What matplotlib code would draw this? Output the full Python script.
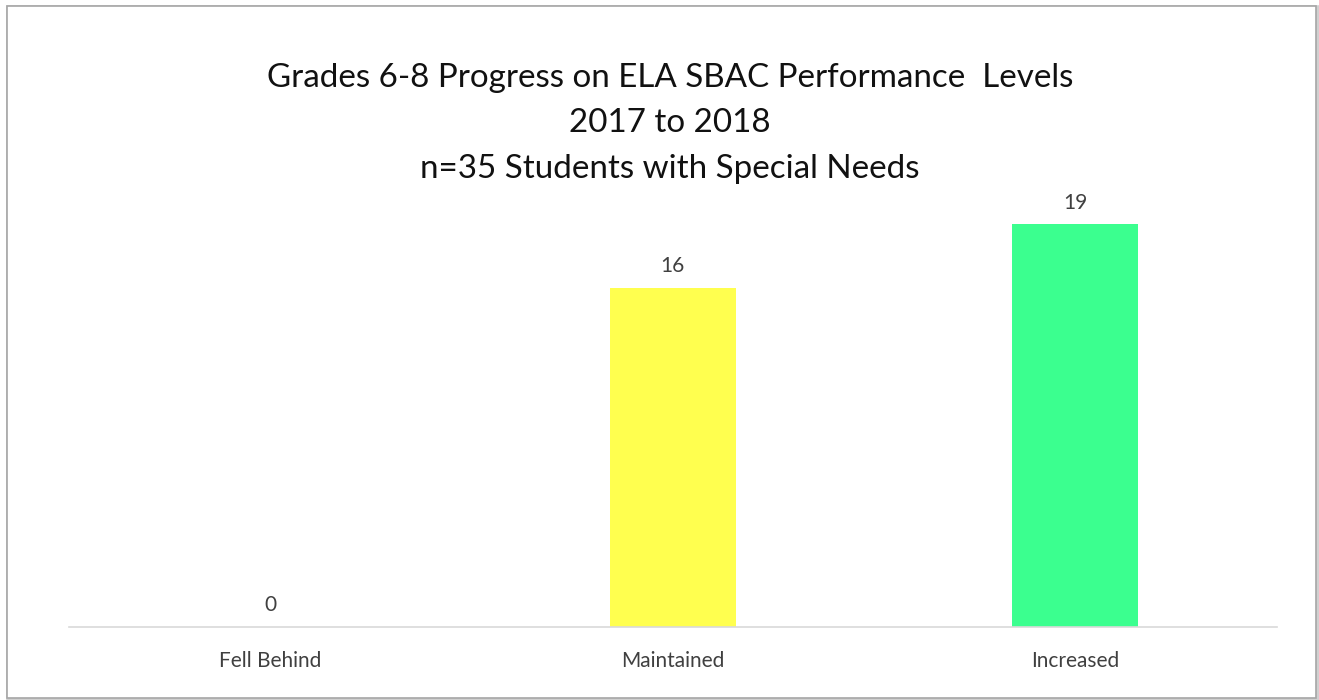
import matplotlib
matplotlib.use("Agg")
import matplotlib.pyplot as plt
from matplotlib.patches import Rectangle

categories = ["Fell Behind", "Maintained", "Increased"]
values = [0, 16, 19]
colors = ["#FF6B6B", "#FFFF4F", "#3BFF8F"]
title_lines = ["Grades 6-8 Progress on ELA SBAC Performance  Levels",
               "2017 to 2018",
               "n=35 Students with Special Needs"]

plt.rcParams['font.family'] = ['Lato', 'DejaVu Sans']
fig = plt.figure(figsize=(13.19, 7.0), dpi=100)
fig.patch.set_facecolor("white")

# outer frame with shadow
fig.add_artist(Rectangle((9/1319, 0.0), 1309/1319, 692/700, transform=fig.transFigure,
                         facecolor="none", edgecolor="#d0d0d0", linewidth=4, zorder=-2))
fig.add_artist(Rectangle((7/1319, 2/700), 1309/1319, 692/700, transform=fig.transFigure,
                         facecolor="white", edgecolor="#a6a6a6", linewidth=1.2, zorder=-1))

ax = fig.add_axes([68.7/1319, 73/700, 1208/1319, 424/700])
ax.set_facecolor("none")
x = range(len(categories))
bars = ax.bar(x, values, width=0.313, color=colors, zorder=2)
ax.set_xlim(-0.5, 2.5)
ax.set_ylim(0, 20)
for xi, v in zip(x, values):
    ax.text(xi, v + 0.55, str(v), ha="center", va="bottom", fontsize=15, color="#404040")
ax.set_xticks(list(x))
ax.set_xticklabels(categories, fontsize=15, color="#404040")
ax.tick_params(axis="x", length=0, pad=17)
ax.set_yticks([])
for s in ["top", "right", "left"]:
    ax.spines[s].set_visible(False)
ax.spines["bottom"].set_color("#d9d9d9")
ax.spines["bottom"].set_linewidth(1.2)

for i, line in enumerate(title_lines):
    fig.text(670/1319, 1 - (78 + 45.5 * i)/700, line, ha="center", va="center",
             fontsize=23.9, color="#111111")

fig.savefig("out.png", dpi=100, facecolor="white")
